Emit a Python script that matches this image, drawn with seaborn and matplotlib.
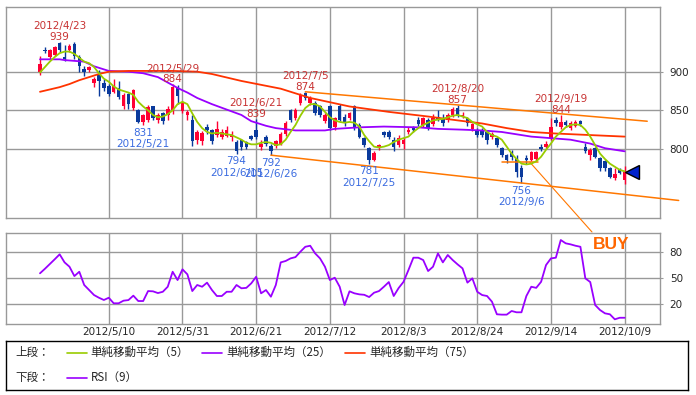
import matplotlib
matplotlib.use('Agg')
import matplotlib.pyplot as plt
import numpy as np
import pandas as pd
import seaborn as sns

# ── data ─────────────────────────────────────────────────────────────────────
opens = [899, 928, 919, 922, 937, 919, 928, 936, 919, 904,
         902, 885, 896, 886, 882, 874, 879, 855, 871, 853,
         850, 835, 838, 855, 838, 846, 844, 851, 880, 849,
         844, 838, 812, 810, 829, 824, 818, 816, 817, 815,
         809, 811, 809, 817, 824, 802, 815, 804, 804, 807,
         820, 850, 840, 859, 872, 859, 859, 855, 836, 855,
         828, 856, 842, 840, 855, 831, 814, 801, 786, 801,
         822, 822, 812, 805, 807, 822, 827, 838, 831, 837,
         832, 842, 840, 838, 844, 853, 842, 840, 826, 825,
         825, 822, 816, 814, 801, 792, 796, 788, 776, 788,
         786, 787, 803, 803, 814, 838, 829, 835, 827, 830,
         836, 803, 792, 801, 788, 784, 775, 762, 773, 760]
highs = [920, 932, 930, 933, 939, 934, 936, 938, 921, 908,
         908, 893, 902, 891, 884, 891, 888, 872, 873, 877,
         852, 845, 857, 856, 846, 848, 856, 884, 883, 862,
         851, 844, 825, 823, 832, 826, 836, 826, 830, 823,
         812, 813, 810, 818, 839, 811, 818, 806, 812, 822,
         836, 852, 853, 873, 874, 868, 862, 857, 846, 857,
         842, 858, 845, 848, 857, 834, 816, 803, 797, 806,
         823, 825, 816, 818, 815, 828, 830, 841, 842, 840,
         845, 850, 845, 846, 854, 857, 848, 842, 834, 827,
         827, 824, 822, 816, 803, 794, 799, 792, 779, 792,
         798, 798, 806, 810, 840, 842, 844, 838, 836, 837,
         838, 808, 801, 803, 790, 786, 777, 775, 775, 778]
lows = [896, 924, 917, 920, 925, 914, 926, 916, 899, 895,
        900, 880, 869, 875, 868, 872, 865, 852, 852, 850,
        833, 831, 835, 838, 834, 832, 838, 845, 858, 847,
        838, 804, 806, 805, 820, 806, 816, 813, 815, 810,
        794, 799, 800, 811, 813, 799, 804, 792, 801, 805,
        817, 835, 837, 857, 864, 857, 844, 842, 834, 824,
        825, 836, 830, 837, 824, 814, 802, 781, 784, 799,
        815, 813, 797, 802, 800, 820, 822, 830, 829, 825,
        830, 836, 830, 835, 842, 842, 840, 830, 823, 816,
        815, 806, 813, 802, 790, 782, 786, 764, 756, 780,
        784, 785, 797, 801, 812, 830, 826, 829, 825, 828,
        830, 795, 786, 788, 772, 772, 762, 760, 767, 755]
closes = [910, 927, 928, 932, 928, 916, 933, 920, 907, 899,
          906, 890, 888, 879, 871, 882, 867, 870, 858, 876,
          835, 844, 854, 840, 844, 836, 852, 880, 868, 860,
          848, 810, 822, 821, 825, 810, 826, 822, 824, 819,
          797, 803, 803, 813, 816, 807, 807, 797, 810, 820,
          834, 837, 851, 870, 866, 866, 846, 844, 844, 827,
          840, 838, 833, 846, 827, 816, 805, 786, 795, 805,
          818, 816, 802, 814, 811, 825, 824, 832, 840, 827,
          840, 838, 833, 844, 852, 844, 844, 833, 832, 818,
          818, 812, 819, 805, 792, 786, 790, 770, 764, 786,
          796, 796, 800, 807, 829, 833, 835, 831, 833, 835,
          832, 797, 799, 790, 775, 775, 764, 768, 769, 770]

ma5 = [899, 906, 913, 919, 924, 926, 926, 923, 918, 913,
       911, 906, 898, 891, 887, 881, 877, 875, 873, 870,
       861, 855, 850, 844, 841, 842, 845, 850, 858, 861,
       858, 846, 835, 827, 822, 820, 821, 820, 819, 818,
       815, 812, 808, 806, 806, 808, 809, 808, 805, 806,
       812, 822, 831, 843, 853, 858, 858, 855, 848, 841,
       837, 835, 834, 835, 834, 829, 818, 810, 803, 802,
       803, 805, 809, 812, 814, 816, 822, 827, 831, 834,
       837, 838, 839, 841, 843, 844, 842, 840, 835, 832,
       829, 822, 818, 816, 812, 803, 794, 787, 781, 780,
       781, 784, 790, 799, 807, 816, 822, 828, 831, 832,
       831, 825, 816, 805, 794, 787, 781, 777, 773, 771]

ma25_idx = [0, 4, 5, 9, 11, 14, 18, 21, 24, 26, 28, 30, 32, 35, 38, 41, 43, 46,
            48, 52, 58, 60, 65, 70, 77, 81, 86, 90, 94, 97, 100, 104, 108, 112,
            115, 119]
ma25_val = [916, 916, 915, 913, 907, 901, 900, 898, 893, 886, 879, 873, 866,
            858, 851, 844, 836, 830, 827, 824, 824, 826, 828, 829, 828, 826,
            825, 824, 822, 819, 816, 814, 812, 807, 801, 797]

ma75_idx = [0, 2, 4, 6, 8, 10, 12, 14, 18, 27, 32, 35, 37, 41, 45, 49, 55, 63,
            71, 79, 85, 90, 95, 100, 105, 112, 119]
ma75_val = [874, 877, 880, 884, 889, 893, 897, 900, 901, 901, 900, 897, 894,
            888, 883, 878, 866, 855, 848, 842, 837, 833, 827, 822, 820, 818, 816]

rsi = [55.8, 61, 66.5, 72, 77.7, 68.4, 63.4, 52.6, 57.6, 42.3,
       36.5, 30.7, 27.6, 25, 27.6, 21.2, 21.2, 24.2, 24.9, 30,
       23.8, 23.8, 35.3, 35, 33, 34.5, 40.3, 57.6, 48, 60.4,
       54.6, 35.3, 42.3, 40.3, 45, 36.5, 29.6, 29.6, 34.5, 34.5,
       42.3, 38.5, 39, 44.2, 51.8, 32.7, 36.5, 28.8, 42.3, 68.4,
       70, 73, 74.5, 80.7, 86.4, 87.6, 78.8, 73, 63.4, 48,
       50.7, 40.3, 19.2, 35, 32.7, 31.5, 31, 28.4, 33.4, 35.3,
       40.3, 45.7, 29.6, 38.8, 46, 59.6, 73.8, 73.8, 71.1, 58.4,
       63.4, 78.8, 68.4, 76.9, 71.1, 66.1, 61.5, 45, 50, 34.5,
       30.7, 29.6, 23, 8.5, 8.1, 8.1, 12.3, 10.8, 10.8, 29.6,
       40.3, 39, 46, 65.3, 73, 73.8, 94.2, 90.4, 89.2, 87.6,
       86.4, 50, 45.7, 19.2, 13.4, 9.6, 8.5, 2.7, 4.5, 4.5]

tick_idx = [14, 29, 44, 59, 74, 89, 104, 119]
tick_lbl = ['2012/5/10', '2012/5/31', '2012/6/21', '2012/7/12',
            '2012/8/3', '2012/8/24', '2012/9/14', '2012/10/9']

peak_idx = [4, 27, 44, 54, 85, 106]
peak_dates = ['2012/4/23', '2012/5/29', '2012/6/21', '2012/7/5', '2012/8/20', '2012/9/19']
trough_idx = [21, 40, 47, 67, 98]
trough_dates = ['2012/5/21', '2012/6/15', '2012/6/26', '2012/7/25', '2012/9/6']

# trend lines (index, price) and support segment
upper_idx, upper_val = [54, 123.6], [874, 835.9]
lower_idx, lower_val = [47, 130], [792, 733.4]
support_idx, support_val = [94, 101.4], [783, 783]
buy_from = (99.7, 783)

# ── style ────────────────────────────────────────────────────────────────────
RED_C   = '#ff0033'
BLUE_C  = '#0a3a9c'
MA5_C   = '#99cc00'
MA25_C  = '#9900ff'
MA75_C  = '#ff3300'
TREND_C = '#ff7700'
GRID_C  = '#999999'
LBL_RED = '#c83232'
LBL_BLU = '#3a6be0'

sns.set_style('white')
plt.rcParams['font.family'] = ['DejaVu Sans']
plt.rcParams['font.size'] = 7.5

W, H = 696, 395
def rect(l, t, r, b):
    return [l / W, (H - b) / H, (r - l) / W, (b - t) / H]

fig = plt.figure(figsize=(W / 100, H / 100), dpi=100, facecolor='white')
ax  = fig.add_axes(rect(6, 7, 660, 218))
ax2 = fig.add_axes(rect(6, 233, 660, 324))
axl = fig.add_axes(rect(6, 341, 688, 390))

df = pd.DataFrame({'open': opens, 'high': highs, 'low': lows, 'close': closes})
df['idx'] = np.arange(len(df))
df['ma5'] = ma5
df['rsi'] = rsi
colors = np.where(df['close'] >= df['open'], RED_C, BLUE_C)
XLIM = (-6.92, 126.2)

# ── upper panel: candles + moving averages ──────────────────────────────────
ax.vlines(df['idx'], df['low'], df['high'], colors=colors, lw=1, zorder=2)
body_lo = df[['open', 'close']].min(axis=1)
body_h = (df['close'] - df['open']).abs().clip(lower=1.3)
ax.bar(df['idx'], body_h, bottom=body_lo, width=0.72, color=colors, lw=0, zorder=2)

sns.lineplot(data=df, x='idx', y='ma5', ax=ax, color=MA5_C, lw=1.3, zorder=4)
sns.lineplot(x=ma25_idx, y=ma25_val, ax=ax, color=MA25_C, lw=1.3, zorder=3)
sns.lineplot(x=ma75_idx, y=ma75_val, ax=ax, color=MA75_C, lw=1.3, zorder=3)

ax.plot(upper_idx, upper_val, color=TREND_C, lw=1.1, zorder=3, clip_on=False)
ax.plot(lower_idx, lower_val, color=TREND_C, lw=1.1, zorder=3, clip_on=False)
ax.plot(support_idx, support_val, color=TREND_C, lw=1.1, zorder=3)

ax.plot(len(df) - 1 + 1.6, closes[-1], marker='<', ms=10, mfc='#0022cc',
        mec='black', mew=1, clip_on=False, zorder=5)

# pointer line from the support level down to the BUY mark
ax.annotate('', xy=buy_from, xycoords='data',
            xytext=(592, H - 232), textcoords='figure pixels',
            annotation_clip=False,
            arrowprops=dict(arrowstyle='-', color=TREND_C, lw=0.8,
                            shrinkA=0, shrinkB=0))
fig.text(593 / W, (H - 244.5) / H, 'BUY', ha='left', va='center',
         color='#ff6600', fontsize=12.5, fontweight='bold',
         family='Liberation Sans')

for i, d in zip(peak_idx, peak_dates):
    ax.annotate(f'{highs[i]}', (i, highs[i]), xytext=(0, 1.2), textcoords='offset points',
                ha='center', va='baseline', color=LBL_RED, zorder=6)
    ax.annotate(d, (i, highs[i]), xytext=(0, 9), textcoords='offset points',
                ha='center', va='baseline', color=LBL_RED, zorder=6)
for i, d in zip(trough_idx, trough_dates):
    ax.annotate(f'{lows[i]}', (i, lows[i]), xytext=(0, -7.6), textcoords='offset points',
                ha='center', va='baseline', color=LBL_BLU, zorder=6)
    ax.annotate(d, (i, lows[i]), xytext=(0, -16), textcoords='offset points',
                ha='center', va='baseline', color=LBL_BLU, zorder=6)

ax.set_xlim(*XLIM)
ax.set_ylim(710.7, 983.7)
ax.set_xticks(tick_idx)
ax.set_yticks([800, 850, 900])
ax.yaxis.tick_right()
ax.tick_params(axis='x', labelbottom=False, length=0)
ax.tick_params(axis='y', length=2, color=GRID_C, pad=5, labelsize=7.5)
ax.grid(True, color=GRID_C, lw=1, zorder=0)
ax.set_axisbelow(True)
ax.set_xlabel(''); ax.set_ylabel('')

# ── lower panel: RSI ────────────────────────────────────────────────────────
sns.lineplot(data=df, x='idx', y='rsi', ax=ax2, color=MA25_C, lw=1.3)
ax2.set_xlim(*XLIM)
ax2.set_ylim(-2.7, 102.3)
ax2.set_xticks(tick_idx)
ax2.set_xticklabels(tick_lbl)
ax2.set_yticks([20, 50, 80])
ax2.yaxis.tick_right()
ax2.tick_params(axis='x', length=0, pad=2.5, labelsize=7.5)
ax2.tick_params(axis='y', length=2, color=GRID_C, pad=5, labelsize=7.5)
ax2.grid(True, color=GRID_C, lw=1)
ax2.set_axisbelow(True)
ax2.set_xlabel(''); ax2.set_ylabel('')

for a in (ax, ax2):
    for s in a.spines.values():
        s.set_color(GRID_C)
        s.set_linewidth(1)

# ── legend box ──────────────────────────────────────────────────────────────
axl.set_xlim(6, 688)
axl.set_ylim(390, 341)
axl.set_xticks([]); axl.set_yticks([])
for s in axl.spines.values():
    s.set_color('black')
    s.set_linewidth(1)

jp = ['Noto Sans CJK JP', 'DejaVu Sans']
row1, row2 = 352.7, 377.7
axl.text(15, row1, '上段：', va='center', fontsize=8.3, family=jp)
axl.text(15, row2, '下段：', va='center', fontsize=8.3, family=jp)
legend_items = [(66.7, row1, MA5_C, '単純移動平均（5）'),
                (202, row1, MA25_C, '単純移動平均（25）'),
                (345, row1, MA75_C, '単純移動平均（75）'),
                (66.7, row2, MA25_C, 'RSI（9）')]
for x0, yy, c, lbl in legend_items:
    axl.plot([x0, x0 + 20], [yy, yy], color=c, lw=1.2)
    axl.text(x0 + 24, yy, lbl, va='center', fontsize=8.3, family=jp)

fig.savefig('out.png', dpi=100, facecolor='white')
